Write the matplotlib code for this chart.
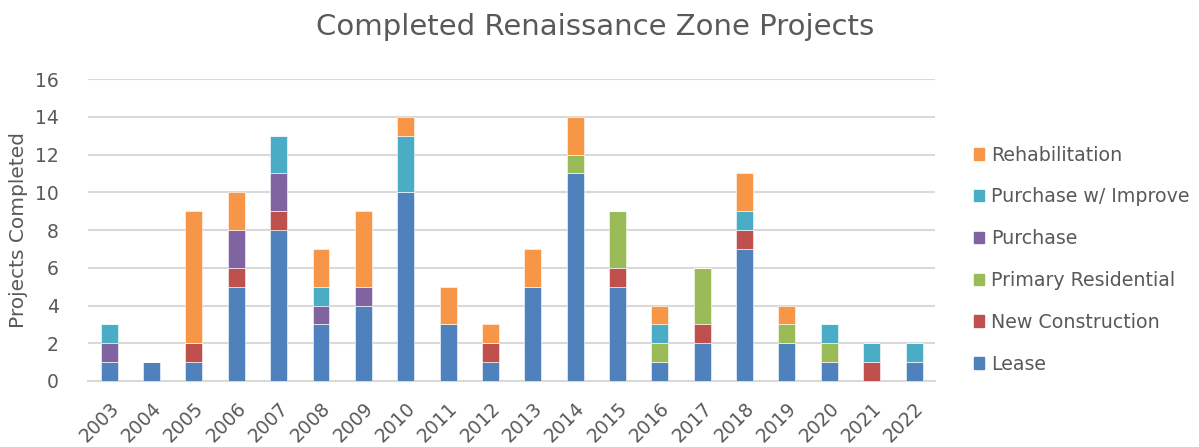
import matplotlib
matplotlib.use("Agg")
import matplotlib.pyplot as plt
import numpy as np
from matplotlib.patches import Patch

years = [str(y) for y in range(2003, 2023)]
lease = [1, 1, 1, 5, 8, 3, 4, 10, 3, 1, 5, 11, 5, 1, 2, 7, 2, 1, 0, 1]
new_construction = [0, 0, 1, 1, 1, 0, 0, 0, 0, 1, 0, 0, 1, 0, 1, 1, 0, 0, 1, 0]
primary_residential = [0, 0, 0, 0, 0, 0, 0, 0, 0, 0, 0, 1, 3, 1, 3, 0, 1, 1, 0, 0]
purchase = [1, 0, 0, 2, 2, 1, 1, 0, 0, 0, 0, 0, 0, 0, 0, 0, 0, 0, 0, 0]
purchase_improve = [1, 0, 0, 0, 2, 1, 0, 3, 0, 0, 0, 0, 0, 1, 0, 1, 0, 1, 1, 1]
rehabilitation = [0, 0, 7, 2, 0, 2, 4, 1, 2, 1, 2, 2, 0, 1, 0, 2, 1, 0, 0, 0]

series_names = ["Lease", "New Construction", "Primary Residential", "Purchase",
                "Purchase w/ Improve", "Rehabilitation"]
series_values = [lease, new_construction, primary_residential, purchase,
                 purchase_improve, rehabilitation]
colors = ["#4F81BD", "#C0504D", "#9BBB59", "#8064A2", "#4BACC6", "#F79646"]

text_color = "#595959"
plt.rcParams['font.family'] = ['DejaVu Sans']

fig = plt.figure(figsize=(11.99, 4.47), dpi=100)
ax = fig.add_axes([0.0734, 0.1477, 0.7066, 0.6753])

x = np.arange(len(years))
bottom = np.zeros(len(years))
handles = []
for name, vals, c in zip(series_names, series_values, colors):
    vals = np.array(vals, dtype=float)
    ax.bar(x, vals, bottom=bottom, width=0.4, color=c, edgecolor="white",
           linewidth=0.4, zorder=3)
    bottom += vals
    handles.append(Patch(facecolor=c, edgecolor=c, label=name))

ax.set_xlim(-0.5, len(years) - 0.5)
ax.set_ylim(0, 16)
ax.set_yticks(range(0, 17, 2))
ax.set_xticks(x)
ax.set_xticklabels(years, rotation=45, ha="right", rotation_mode="anchor")
ax.tick_params(axis="both", length=0, colors=text_color, labelsize=13.5)
ax.tick_params(axis="x", pad=13)
ax.tick_params(axis="y", pad=21)
ax.grid(axis="y", color="#D9D9D9", linewidth=1.5, zorder=0)
for s in ["top", "right", "left"]:
    ax.spines[s].set_visible(False)
ax.spines["bottom"].set_color("#D9D9D9")
ax.spines["bottom"].set_linewidth(1.5)

ax.set_ylabel("Projects Completed", color=text_color, fontsize=14.5, labelpad=5)
fig.text(0.496, 0.94, "Completed Renaissance Zone Projects", ha="center",
         va="center", color=text_color, fontsize=21)

leg = fig.legend(handles=handles[::-1], loc="center left",
                 bbox_to_anchor=(0.798, 0.419), frameon=False,
                 fontsize=13.7, labelcolor=text_color, handlelength=0.55,
                 handleheight=0.55, handletextpad=0.35, labelspacing=1.2)

fig.savefig("out.png", dpi=100)
